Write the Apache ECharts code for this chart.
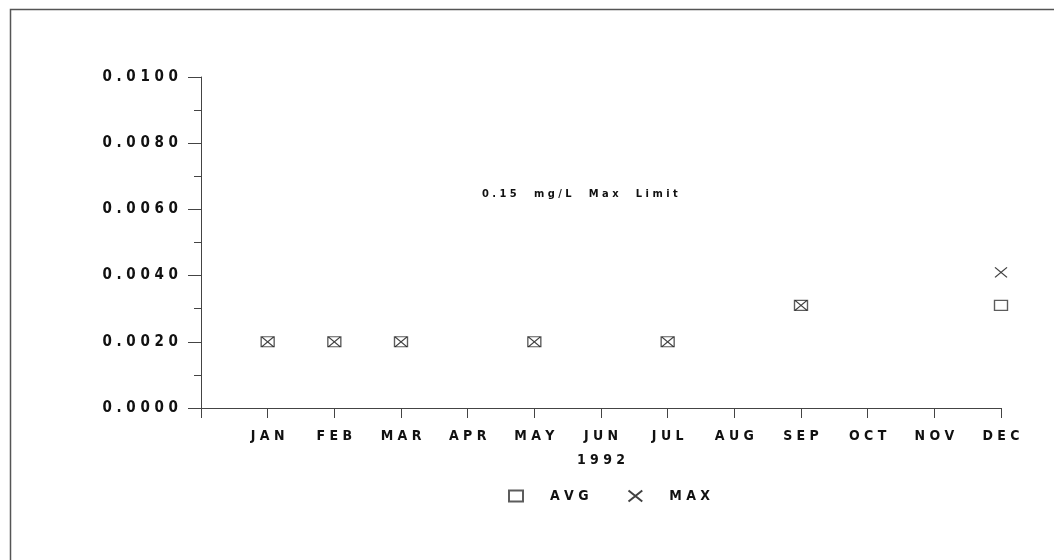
<!DOCTYPE html>
<html>
<head>
<meta charset="utf-8">
<script src="https://cdn.jsdelivr.net/npm/echarts@6/dist/echarts.min.js"></script>
<style>html,body{margin:0;padding:0;background:#fff;}#c{width:1054px;height:560px;}</style>
</head>
<body>
<div id="c"></div>
<script>
var months = ['JAN','FEB','MAR','APR','MAY','JUN','JUL','AUG','SEP','OCT','NOV','DEC'];
var avgValues = [0.002, 0.002, 0.002, null, 0.002, null, 0.002, null, 0.0031, null, null, 0.0031];
var maxValues = [0.002, 0.002, 0.002, null, 0.002, null, 0.002, null, 0.0031, null, null, 0.0041];
var yearLabel = '1992';
var noteText = '0.15 mg/L Max Limit';

function spaced(s){ return String(s).split('').join(' '); }
function spacedWords(s){ return String(s).split(' ').map(spaced).join('     '); }
var FONT = '"DejaVu Sans Condensed", "DejaVu Sans Mono", monospace';
var INK = '#111';

var cats = [''].concat(months);
var avgData = [null].concat(avgValues);
var maxData = [null].concat(maxValues);

var chart = echarts.init(document.getElementById('c'));
chart.setOption({
  animation: false,
  backgroundColor: '#fff',
  graphic: [{
    type: 'rect', left: 8, top: 7,
    shape: {width: 1100, height: 600},
    style: {fill: 'none', stroke: '#555', lineWidth: 1.5},
    silent: true
  }],
  title: {
    text: spacedWords(noteText),
    left: 477, top: 184,
    textStyle: {fontFamily: FONT, fontSize: 11, fontWeight: 'bold', color: INK}
  },
  grid: {left: 201, right: 53, top: 77, bottom: 152},
  legend: {
    top: 484, left: 503,
    itemWidth: 14, itemHeight: 11, itemGap: 39,
    data: ['AVG', 'MAX'],
    formatter: function(n){ return '     ' + spaced(n); },
    textStyle: {fontFamily: FONT, fontSize: 14, fontWeight: 'bold', color: INK}
  },
  xAxis: {
    type: 'category', data: cats, boundaryGap: false,
    name: spaced(yearLabel), nameLocation: 'middle', nameGap: 45,
    nameTextStyle: {fontFamily: FONT, fontSize: 14, fontWeight: 'bold', color: INK},
    axisLine: {lineStyle: {color: '#444', width: 1}},
    axisTick: {length: 10, lineStyle: {color: '#444'}},
    axisLabel: {
      margin: 21, interval: 0,
      formatter: function(v){ return spaced(v); },
      fontFamily: FONT, fontSize: 14, fontWeight: 'bold', color: INK
    },
    splitLine: {show: false}
  },
  yAxis: {
    type: 'value', min: 0, max: 0.01, interval: 0.002,
    axisLine: {show: true, lineStyle: {color: '#444', width: 1}},
    axisTick: {show: true, length: 13, lineStyle: {color: '#444'}},
    minorTick: {show: true, splitNumber: 2, length: 7, lineStyle: {color: '#444'}},
    axisLabel: {
      margin: 23,
      formatter: function(v){ return spaced(v.toFixed(4)); },
      fontFamily: FONT, fontSize: 15, fontWeight: 'bold', color: INK
    },
    splitLine: {show: false}
  },
  series: [{
    name: 'AVG', type: 'scatter', data: avgData,
    symbol: 'rect', symbolSize: [13, 10],
    itemStyle: {color: 'rgba(0,0,0,0)', borderColor: '#333', borderWidth: 1.2}
  }, {
    name: 'MAX', type: 'scatter', data: maxData,
    symbol: 'path://M0,0L10,8M10,0L0,8', symbolSize: [12, 10],
    itemStyle: {color: 'rgba(0,0,0,0)', borderColor: '#111', borderWidth: 1.2}
  }]
});
</script>
</body>
</html>
